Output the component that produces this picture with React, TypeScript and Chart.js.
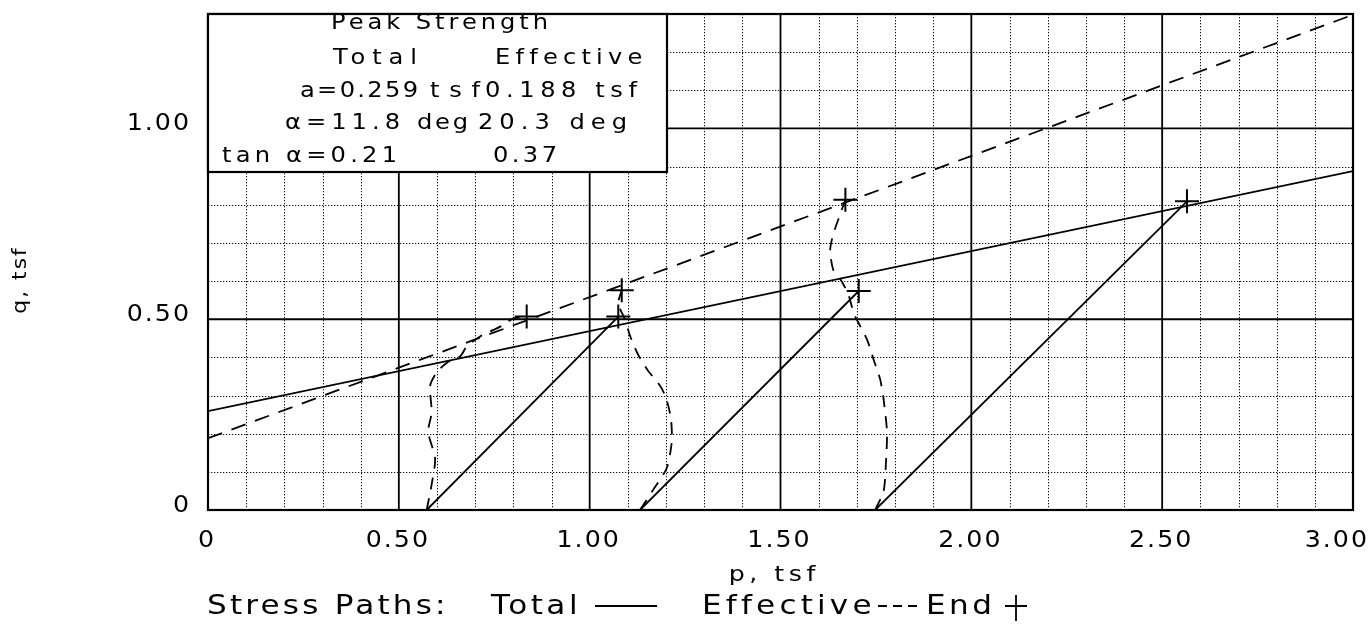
import React, { useEffect, useRef } from 'react';
import { Chart, registerables } from 'chart.js';

Chart.register(...registerables);

// ---- axis ticks ----
const xTickValues = [0, 0.5, 1.0, 1.5, 2.0, 2.5, 3.0];
const xTickLabels = ['0', '0.50', '1.00', '1.50', '2.00', '2.50', '3.00'];
const yTickValues = [0, 0.5, 1.0];
const yTickLabels = ['0', '0.50', '1.00'];

// ---- failure envelopes (p, q in tsf) ----
const totalEnvelope = [
  { x: 0, y: 0.259 },
  { x: 3.0, y: 0.888 },
];
const effectiveEnvelope = [
  { x: 0, y: 0.188 },
  { x: 3.0, y: 1.298 },
];

// ---- total stress paths ----
const totalPath1 = [
  { x: 0.573, y: 0 },
  { x: 1.075, y: 0.507 },
];
const totalPath2 = [
  { x: 1.132, y: 0 },
  { x: 1.705, y: 0.574 },
];
const totalPath3 = [
  { x: 1.748, y: 0 },
  { x: 2.565, y: 0.809 },
];

// ---- effective stress paths ----
const effectivePath1 = [
  { x: 0.573, y: 0 }, { x: 0.586, y: 0.067 }, { x: 0.595, y: 0.135 },
  { x: 0.577, y: 0.205 }, { x: 0.586, y: 0.256 }, { x: 0.582, y: 0.325 },
  { x: 0.599, y: 0.36 }, { x: 0.626, y: 0.386 }, { x: 0.661, y: 0.403 },
  { x: 0.678, y: 0.429 }, { x: 0.713, y: 0.455 }, { x: 0.748, y: 0.472 },
  { x: 0.774, y: 0.485 }, { x: 0.8, y: 0.502 }, { x: 0.835, y: 0.507 },
];
const effectivePath2 = [
  { x: 1.132, y: 0 }, { x: 1.167, y: 0.054 }, { x: 1.202, y: 0.11 },
  { x: 1.215, y: 0.179 }, { x: 1.213, y: 0.239 }, { x: 1.201, y: 0.291 },
  { x: 1.185, y: 0.325 }, { x: 1.153, y: 0.365 }, { x: 1.127, y: 0.407 },
  { x: 1.106, y: 0.456 }, { x: 1.093, y: 0.498 }, { x: 1.075, y: 0.541 },
  { x: 1.084, y: 0.576 },
];
const effectivePath3 = [
  { x: 1.748, y: 0 }, { x: 1.77, y: 0.049 }, { x: 1.776, y: 0.119 },
  { x: 1.779, y: 0.205 }, { x: 1.77, y: 0.291 }, { x: 1.761, y: 0.343 },
  { x: 1.744, y: 0.394 }, { x: 1.727, y: 0.446 }, { x: 1.696, y: 0.507 },
  { x: 1.687, y: 0.533 }, { x: 1.677, y: 0.567 }, { x: 1.656, y: 0.606 },
  { x: 1.639, y: 0.627 }, { x: 1.63, y: 0.679 }, { x: 1.638, y: 0.722 },
  { x: 1.656, y: 0.774 }, { x: 1.67, y: 0.813 },
];

// ---- texts ----
const boxTitle = 'Peak Strength';
const boxHeaders = ['Total', 'Effective'];
const boxRowA = ['a=0.259', 'tsf', '0.188 tsf'];
const boxRowAlpha = ['α=11.8', 'deg', '20.3 deg'];
const boxRowTan = ['tan α=0.21', '0.37'];
const xTitle = 'p, tsf';
const yTitle = 'q, tsf';
const legendTexts = ['Stress Paths:', 'Total', 'Effective', 'End'];

const FONT = '"DejaVu Sans", sans-serif';
const SX = 1.15; // horizontal stretch to mimic the wide plotter font

function drawStretched(ctx: CanvasRenderingContext2D, text: string, x0: number, y: number, size: number, spScreen: number, sx: number) {
  ctx.save();
  ctx.font = `${size}px ${FONT}`;
  (ctx as any).letterSpacing = `${spScreen / sx}px`;
  ctx.textAlign = 'left';
  ctx.textBaseline = 'alphabetic';
  ctx.translate(x0, y);
  ctx.scale(sx, 1);
  ctx.fillText(text, 0, 0);
  ctx.restore();
}

function measure(ctx: CanvasRenderingContext2D, text: string, size: number) {
  ctx.save();
  ctx.font = `${size}px ${FONT}`;
  (ctx as any).letterSpacing = '0px';
  const w = ctx.measureText(text).width;
  ctx.restore();
  return w;
}

function fitText(ctx: CanvasRenderingContext2D, text: string, x0: number, x1: number, baseline: number, size: number, sx = SX) {
  const w = measure(ctx, text, size) * sx;
  const n = Array.from(text).length;
  const sp = n > 1 ? (x1 - x0 - w) / (n - 1) : 0;
  drawStretched(ctx, text, x0, baseline, size, sp, sx);
}

function spacedText(
  ctx: CanvasRenderingContext2D, text: string, x: number, y: number,
  size: number, sp: number, align: 'left' | 'center' | 'right', sx = SX
): number {
  const n = Array.from(text).length;
  const w = measure(ctx, text, size) * sx + sp * (n - 1);
  const x0 = align === 'center' ? x - w / 2 : align === 'right' ? x - w : x;
  drawStretched(ctx, text, x0, y, size, sp, sx);
  return x0 + w;
}

const paperPlugin = {
  id: 'paper',
  beforeDatasetsDraw(chart: any) {
    const { ctx, chartArea: a, scales } = chart;
    const xs = scales.x;
    const ys = scales.y;
    ctx.save();
    const vline = (px: number) => { ctx.beginPath(); ctx.moveTo(px, a.top); ctx.lineTo(px, a.bottom); ctx.stroke(); };
    const hline = (py: number) => { ctx.beginPath(); ctx.moveTo(a.left, py); ctx.lineTo(a.right, py); ctx.stroke(); };
    // minor dotted grid every 0.1
    ctx.strokeStyle = '#111';
    ctx.lineWidth = 1;
    ctx.setLineDash([1.3, 1.7]);
    for (let i = 1; i < 30; i++) {
      if (i % 5 === 0) continue;
      vline(Math.round(xs.getPixelForValue(i / 10)) + 0.5);
    }
    for (let i = 1; i < 13; i++) {
      if (i % 5 === 0) continue;
      hline(Math.round(ys.getPixelForValue(i / 10)) + 0.5);
    }
    // major solid grid every 0.5
    ctx.setLineDash([]);
    ctx.lineWidth = 1.8;
    ctx.strokeStyle = '#000';
    for (let i = 1; i < 6; i++) vline(xs.getPixelForValue(i * 0.5));
    for (let i = 1; i < 3; i++) hline(ys.getPixelForValue(i * 0.5));
    // frame
    ctx.lineWidth = 2.2;
    ctx.strokeRect(a.left, a.top, a.right - a.left, a.bottom - a.top);
    ctx.restore();
  },
  afterDatasetsDraw(chart: any) {
    const { ctx, chartArea: a, scales } = chart;
    const xs = scales.x;
    const ys = scales.y;
    ctx.save();

    // ---- info box ----
    const bx0 = a.left, by0 = a.top, bx1 = 667, by1 = 172;
    ctx.fillStyle = '#fff';
    ctx.fillRect(bx0, by0, bx1 - bx0, by1 - by0);
    ctx.strokeStyle = '#000';
    ctx.lineWidth = 2.2;
    ctx.strokeRect(bx0, by0, bx1 - bx0, by1 - by0);
    ctx.fillStyle = '#000';
    const fs = 21;
    fitText(ctx, boxTitle, 331, 548, 29, fs);
    fitText(ctx, boxHeaders[0], 333, 417, 64, fs);
    fitText(ctx, boxHeaders[1], 495, 642, 64, fs);
    fitText(ctx, boxRowA[0], 300, 418, 97, fs);
    fitText(ctx, boxRowA[1], 430, 480, 97, fs);
    fitText(ctx, boxRowA[2], 485, 637, 97, fs);
    fitText(ctx, boxRowAlpha[0], 285, 400, 129, fs);
    fitText(ctx, boxRowAlpha[1], 417, 468, 129, fs);
    fitText(ctx, boxRowAlpha[2], 478, 627, 129, fs);
    fitText(ctx, boxRowTan[0], 222, 397, 162, fs);
    fitText(ctx, boxRowTan[1], 493, 557, 162, fs);

    // ---- tick labels ----
    const tfs = 23, tsp = 2;
    yTickValues.forEach((v, i) => {
      const py = ys.getPixelForValue(v);
      spacedText(ctx, yTickLabels[i], 189, py + 2, tfs, tsp, 'right', 1.1);
    });
    xTickValues.forEach((v, i) => {
      const px = xs.getPixelForValue(v);
      if (i === xTickValues.length - 1) {
        spacedText(ctx, xTickLabels[i], 1367, 547, tfs, tsp, 'right', 1.1);
      } else {
        spacedText(ctx, xTickLabels[i], px - 2, 547, tfs, tsp, 'center', 1.1);
      }
    });

    // ---- axis titles ----
    spacedText(ctx, xTitle, 772, 581, 22, 4.5, 'center');
    ctx.save();
    ctx.translate(26, 281);
    ctx.rotate(-Math.PI / 2);
    spacedText(ctx, yTitle, 0, 0, 19, 2, 'center');
    ctx.restore();

    // ---- legend ----
    const lfs = 27, lb = 614;
    spacedText(ctx, legendTexts[0], 207, lb, lfs, 3.2, 'left');
    spacedText(ctx, legendTexts[1], 491, lb, lfs, 3.5, 'left');
    ctx.strokeStyle = '#000';
    ctx.lineWidth = 1.8;
    ctx.beginPath();
    ctx.moveTo(595, 606);
    ctx.lineTo(657, 606);
    ctx.stroke();
    spacedText(ctx, legendTexts[2], 702, lb, lfs, 4.2, 'left');
    ctx.setLineDash([9, 6]);
    ctx.beginPath();
    ctx.moveTo(878, 606);
    ctx.lineTo(917, 606);
    ctx.stroke();
    ctx.setLineDash([]);
    const endRight = spacedText(ctx, legendTexts[3], 926, lb, lfs, 3.5, 'left');
    const cx = endRight + 24;
    ctx.beginPath();
    ctx.moveTo(cx - 11, 606);
    ctx.lineTo(cx + 11, 606);
    ctx.moveTo(cx, 595);
    ctx.lineTo(cx, 621);
    ctx.stroke();

    ctx.restore();
  },
};

export default function App() {
  const canvasRef = useRef<HTMLCanvasElement | null>(null);

  useEffect(() => {
    const canvas = canvasRef.current;
    if (!canvas) return;
    const lineDs = (data: any[], dashed: boolean, tension = 0) => ({
      data,
      showLine: true,
      borderColor: '#000',
      borderWidth: 1.8,
      borderDash: dashed ? [12, 9] : [],
      pointRadius: 0,
      pointHoverRadius: 0,
      tension,
      fill: false,
    });
    const endPoints = [totalPath1, totalPath2, totalPath3, effectivePath1, effectivePath2, effectivePath3]
      .map((p) => p[p.length - 1]);

    const chart = new Chart(canvas, {
      type: 'scatter',
      data: {
        datasets: [
          { ...lineDs(totalEnvelope, false), label: 'Total envelope' },
          { ...lineDs(effectiveEnvelope, true), borderDash: [15, 10], label: 'Effective envelope' },
          { ...lineDs(totalPath1, false), label: 'Total 1' },
          { ...lineDs(totalPath2, false), label: 'Total 2' },
          { ...lineDs(totalPath3, false), label: 'Total 3' },
          { ...lineDs(effectivePath1, true, 0.25), label: 'Effective 1' },
          { ...lineDs(effectivePath2, true, 0.25), label: 'Effective 2' },
          { ...lineDs(effectivePath3, true, 0.25), label: 'Effective 3' },
          {
            label: 'End',
            data: endPoints,
            showLine: false,
            pointStyle: 'cross',
            pointRadius: 12,
            pointHoverRadius: 12,
            pointBorderWidth: 2,
            pointBorderColor: '#000',
            borderColor: '#000',
          } as any,
        ],
      },
      options: {
        responsive: false,
        animation: false,
        devicePixelRatio: 1,
        events: [],
        layout: { padding: { left: 208, right: 17, top: 5, bottom: 114 } },
        scales: {
          x: { type: 'linear', min: 0, max: 3, display: false },
          y: { type: 'linear', min: 0, max: 1.3, display: false },
        },
        plugins: {
          legend: { display: false },
          tooltip: { enabled: false },
        },
      },
      plugins: [paperPlugin],
    } as any);
    return () => chart.destroy();
  }, []);

  return (
    <div style={{ position: 'fixed', left: 0, top: 0, width: 1370, height: 624, background: '#fff' }}>
      <canvas ref={canvasRef} width={1370} height={624} style={{ display: 'block' }} />
    </div>
  );
}
